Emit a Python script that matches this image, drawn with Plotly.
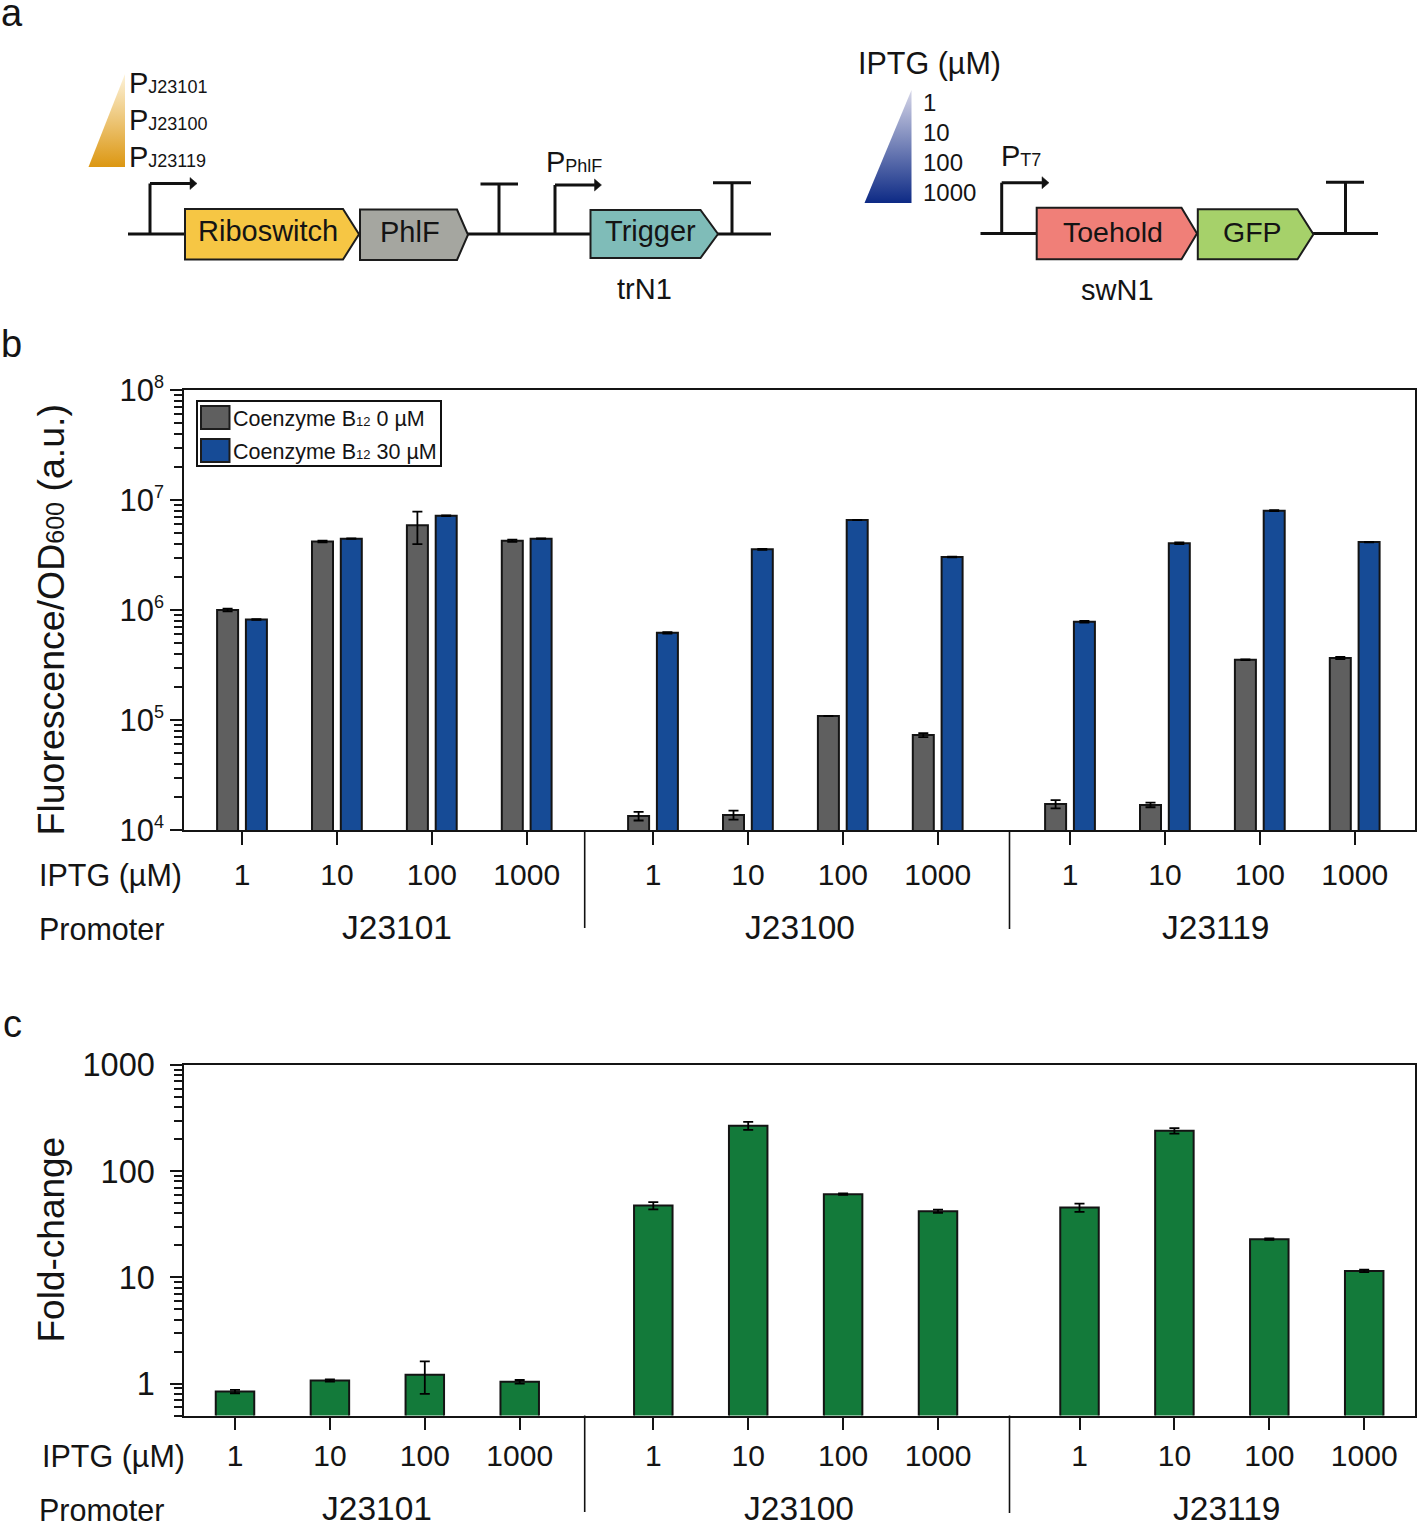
import plotly.graph_objects as go

# ---------- data ----------
iptg_labels = ["1", "10", "100", "1000"]
promoters = ["J23101", "J23100", "J23119"]
series_names = ['Coenzyme B<span style="font-size:13px">12</span> 0 µM',
                'Coenzyme B<span style="font-size:13px">12</span> 30 µM']

off_values = [1.0e6, 4.2e6, 5.9e6, 4.27e6, 1.34e4, 1.37e4, 1.087e5, 7.3e4, 1.72e4, 1.69e4, 3.53e5, 3.66e5]
off_errors = [3e4, 8e4, 1.93e6, 1.0e5, 1.2e3, 1.3e3, 400, 3.0e3, 1.5e3, 800, 2e3, 8e3]
on_values = [8.2e5, 4.45e6, 7.2e6, 4.45e6, 6.2e5, 3.56e6, 6.58e6, 3.03e6, 7.83e5, 4.04e6, 8.0e6, 4.15e6]
on_errors = [5e3, 2e4, 6e4, 2e4, 1e4, 3e4, 2e4, 2e4, 1.5e4, 7e4, 8e4, 2e4]

fold_values = [0.84, 1.067, 1.21, 1.04, 47.4, 268, 60.7, 42, 45.4, 240, 22.9, 11.5]
fold_errors = [0.03, 0.025, 0.41, 0.04, 3.8, 23, 1.0, 1.5, 4.0, 14, 0.4, 0.3]

decades_b = [1e4, 1e5, 1e6, 1e7, 1e8]
decades_c = [1, 10, 100, 1000]

# ---------- page geometry (pixels) ----------
W, H = 1418, 1527
AX_L, AX_R = 184, 1415
B_TOP, B_BOT = 390, 830
C_TOP, C_BOT = 1065, 1415.5
STEP = 94.9
STARTS_B = [242, 653, 1070]
STARTS_C = [235, 653.3, 1079.5]
OFFSET_B = 14.4
INK = "#141414"
FONT = "Liberation Sans"

def positions(starts):
    return [s + i * STEP for s in starts for i in range(4)]

xb = positions(STARTS_B)
xc = positions(STARTS_C)
tick_text = iptg_labels * 3

fig = go.Figure()

def err(vals):
    return dict(type="data", array=vals, visible=True, color="black", thickness=1.8, width=5)

fig.add_trace(go.Bar(x=[v - OFFSET_B for v in xb], y=off_values, width=21, name="Coenzyme B12 0 µM",
                     marker=dict(color="#5f5f5f", line=dict(color=INK, width=2)),
                     error_y=err(off_errors), xaxis="x", yaxis="y", showlegend=False))
fig.add_trace(go.Bar(x=[v + OFFSET_B for v in xb], y=on_values, width=21, name="Coenzyme B12 30 µM",
                     marker=dict(color="#164b96", line=dict(color=INK, width=2)),
                     error_y=err(on_errors), xaxis="x", yaxis="y", showlegend=False))
fig.add_trace(go.Bar(x=xc, y=fold_values, width=38.5, name="Fold-change",
                     marker=dict(color="#137a3a", line=dict(color=INK, width=2)),
                     error_y=err(fold_errors), xaxis="x2", yaxis="y2", showlegend=False))

# gradient triangles, on a full-page overlay axis measured in pixels
def gradient_triangle(pts, top, bottom):
    fig.add_trace(go.Scatter(
        x=[p[0] for p in pts] + [pts[0][0]], y=[p[1] for p in pts] + [pts[0][1]],
        mode="lines", line=dict(width=0), fill="toself", hoverinfo="skip", showlegend=False,
        fillgradient=dict(type="vertical", colorscale=[[0, bottom], [1, top]]),
        xaxis="x3", yaxis="y3"))

gradient_triangle([(125, 74), (88.5, 167), (125, 167)], "#fdf3da", "#dc9712")
gradient_triangle([(911.5, 90), (864.5, 203), (911.5, 203)], "#d6d6e8", "#0d2a85")

shapes, annotations = [], []

def seg(x0, y0, x1, y1, w=3, color="#111111"):
    shapes.append(dict(type="line", xref="x3", yref="y3", x0=x0, y0=y0, x1=x1, y1=y1,
                       line=dict(color=color, width=w)))

def poly(pts, fill, lw=2):
    path = "M" + " L".join(f"{x},{y}" for x, y in pts) + " Z"
    shapes.append(dict(type="path", xref="x3", yref="y3", path=path, fillcolor=fill,
                       line=dict(color="#1c1c1c", width=lw)))

def label(x, y, text, size=30, xanchor="center", angle=0):
    annotations.append(dict(xref="x3", yref="y3", x=x, y=y, text=text, showarrow=False,
                            xanchor=xanchor, yanchor="middle", textangle=angle, borderpad=0,
                            font=dict(family=FONT, size=size, color=INK)))

def gene(x0, x1, tip, y0, y1, fill, text, cx, cy, size):
    poly([(x0, y0), (x1, y0), (tip, (y0 + y1) / 2), (x1, y1), (x0, y1)], fill)
    label(cx, cy, text, size)

def promoter(x, top, tip, base=234):
    seg(x, base, x, top)
    seg(x, top, tip - 5, top)
    poly([(tip - 7, top - 6), (tip, top), (tip - 7, top + 6)], "#111111", 0.5)

def terminator(x, top, x0, x1, base=234):
    seg(x, base, x, top)
    seg(x0, top, x1, top, 3)

def promoter_label(x, y, sub, size=29, subsize=18):
    label(x, y, f'P<span style="font-size:{subsize}px">{sub}</span>', size, "left")

# panel letters
label(12, 13, "a", 38)
label(11, 344, "b", 38)
label(12, 1024, "c", 38)

# panel a, left construct
seg(128, 234, 771, 234)
promoter(150, 183.5, 197)
terminator(499, 184, 480.5, 518)
promoter(555, 185, 601.5)
terminator(732, 182.7, 713, 751)
gene(185, 343, 359, 209, 259.5, "#f6c644", "Riboswitch", 268, 231, 29)
gene(360, 457, 468, 209.5, 260, "#a5a6a0", "PhlF", 409.5, 232, 29)
gene(590.5, 700.5, 718, 210, 258, "#7fbcb8", "Trigger", 650, 231, 29)
label(644, 289, "trN1", 29)
promoter_label(128, 83, "J23101")
promoter_label(128, 119.5, "J23100")
promoter_label(128, 156.5, "J23119")
promoter_label(545, 162, "PhlF")

# panel a, right construct
seg(980.5, 233.5, 1378, 233.5)
promoter(1001.7, 182.7, 1049, 233.5)
terminator(1345.5, 182.3, 1326, 1364, 233.5)
gene(1036.7, 1181.5, 1197, 207.7, 259.3, "#f07f78", "Toehold", 1113, 232, 28.5)
gene(1197.8, 1297.5, 1313.4, 209.3, 259.3, "#a6d16a", "GFP", 1252, 232, 28.5)
label(1117.5, 290, "swN1", 29)
promoter_label(1000, 156, "T7")
label(929, 63, "IPTG (µM)", 30.5)
for y, t in zip([102.7, 132.7, 162.3, 192.7], iptg_labels):
    label(922, y, t, 24, "left")

# panel b/c side labels
label(50.5, 620, 'Fluorescence/OD<span style="font-size:25px">600</span> (a.u.)', 37.5, angle=-90)
label(50.5, 1240, "Fold-change", 37, angle=-90)
label(38, 875.5, "IPTG (µM)", 30.5, "left")
label(38, 929, "Promoter", 30.5, "left")
label(41, 1456, "IPTG (µM)", 30.5, "left")
label(38, 1510, "Promoter", 30.5, "left")
for x, t in zip([397, 799.5, 1215], promoters):
    label(x, 927, t, 33.5)
for x, t in zip([377, 798.5, 1226], promoters):
    label(x, 1508.5, t, 33.5)

# group dividers
seg(584.7, B_BOT, 584.7, 928, 1.6)
seg(1009.5, B_BOT, 1009.5, 929, 1.6)
seg(584.7, C_BOT, 584.7, 1512, 1.6)
seg(1009.5, C_BOT, 1009.5, 1513, 1.6)

# legend key
for y0, y1, color, name, ty in [(406, 429, "#5f5f5f", series_names[0], 419),
                                (439, 462, "#164b96", series_names[1], 451.5)]:
    poly([(201, y0), (229.5, y0), (229.5, y1), (201, y1)], color, 2)
    label(232, ty, name, 21.5, "left")
shapes.append(dict(type="rect", xref="x3", yref="y3", x0=197, y0=401, x1=441, y1=466,
                   line=dict(color="#111111", width=2)))

def minors(decades):
    vals = []
    for d in decades:
        for m in range(2, 10):
            vals.append(d * m)
    return vals

minor_b = [v for v in minors(decades_b) if v < 1e8]
minor_c = [0.5, 0.6, 0.7, 0.8, 0.9] + [v for v in minors(decades_c) if v < 1000]

def xaxis(vals, anchor, standoff):
    return dict(domain=[AX_L / W, AX_R / W], range=[AX_L, AX_R], anchor=anchor, automargin=False,
                tickmode="array", tickvals=vals, ticktext=tick_text,
                ticks="outside", ticklen=12.5, tickwidth=1.6, tickcolor=INK,
                ticklabelstandoff=standoff,
                tickfont=dict(family=FONT, size=30, color=INK),
                showline=True, linecolor=INK, linewidth=2.4, mirror=True,
                showgrid=False, zeroline=False, fixedrange=True)

def yaxis(top, bot, rng, vals, text, minor_vals, anchor, standoff, size):
    return dict(domain=[1 - bot / H, 1 - top / H], type="log", range=rng, anchor=anchor, automargin=False,
                tickmode="array", tickvals=vals, ticktext=text,
                ticks="outside", ticklen=11.5, tickwidth=1.8, tickcolor=INK,
                ticklabelstandoff=standoff,
                tickfont=dict(family=FONT, size=size, color=INK),
                minor=dict(ticks="outside", ticklen=7.5, tickwidth=1.5, tickcolor=INK,
                           tickmode="array", tickvals=minor_vals, showgrid=False),
                showline=True, linecolor=INK, linewidth=2.4, mirror=True,
                showgrid=False, zeroline=False, fixedrange=True)

exps = ["4", "5", "6", "7", "8"]
text_b = [f'10<sup><span style="font-size:18px">{e}</span></sup>' for e in exps]
text_c = ["1", "10", "100", "1000"]

fig.update_layout(
    template="none",
    width=W, height=H, autosize=False,
    margin=dict(l=0, r=0, t=0, b=0, pad=0),
    paper_bgcolor="white", plot_bgcolor="rgba(0,0,0,0)",
    barmode="overlay", showlegend=False, hovermode=False,
    font=dict(family=FONT, color=INK),
    xaxis=xaxis(xb, "y", 4),
    yaxis=yaxis(B_TOP, B_BOT, [4, 8], decades_b, text_b, minor_b, "x", 0, 31),
    xaxis2=xaxis(xc, "y2", 0),
    yaxis2=yaxis(C_TOP, C_BOT, [-0.301, 3], decades_c, text_c, minor_c, "x2", 9, 32.5),
    xaxis3=dict(domain=[0, 1], range=[0, W], visible=False, fixedrange=True, anchor="y3", automargin=False),
    yaxis3=dict(domain=[0, 1], range=[H, 0], visible=False, fixedrange=True, anchor="x3", automargin=False),
    shapes=shapes, annotations=annotations,
)

fig.write_html("out.html", config={"displayModeBar": False},
               post_script="document.body.style.margin='0';document.documentElement.style.overflow='hidden';")
